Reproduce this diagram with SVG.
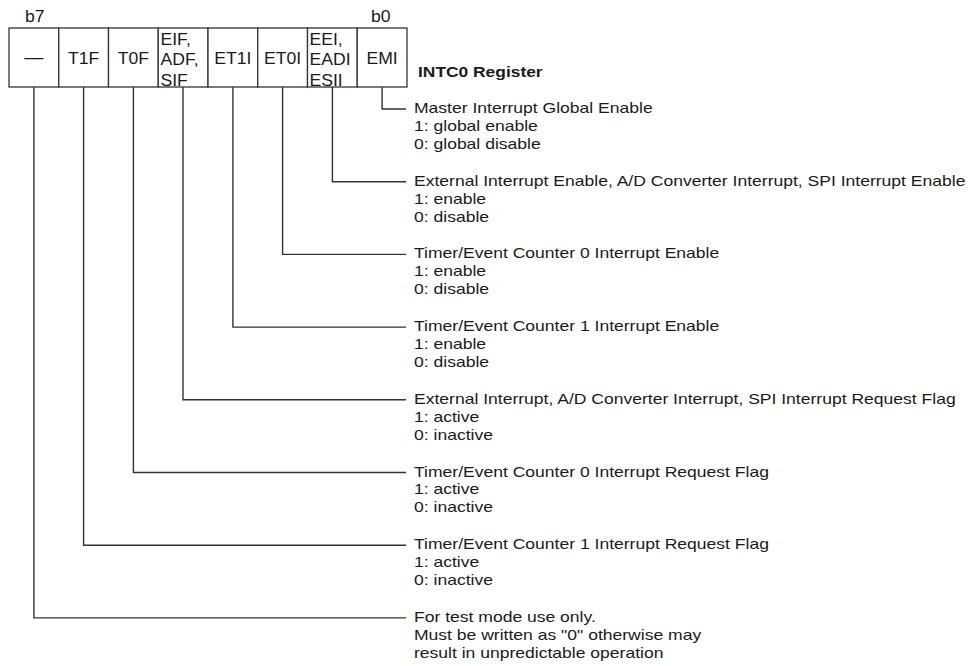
<svg xmlns="http://www.w3.org/2000/svg" width="968" height="666" viewBox="0 0 968 666">
  <style>
    .cell { fill: #fff; stroke: #333; stroke-width: 1.3; }
    .lbl { font-family: "Liberation Sans", Arial, sans-serif; font-size: 16px; fill: #1a1a1a; }
    .desc { font-family: "Liberation Sans", Arial, sans-serif; font-size: 14.5px; fill: #1a1a1a; }
    .title { font-family: "Liberation Sans", Arial, sans-serif; font-size: 14.5px; font-weight: bold; fill: #1a1a1a; }
    .wire { fill: none; stroke: #333; stroke-width: 1.4; }
  </style>
  <rect width="968" height="666" fill="#fff"/>

  <!-- bit position markers -->
  <g id="bit-labels">
    <text class="lbl" transform="translate(25 22) scale(1.1 1)">b7</text>
    <text class="lbl" transform="translate(371 22) scale(1.1 1)">b0</text>
  </g>

  <!-- register cells, b7 .. b0 -->
  <g id="bit7">
    <rect class="cell" x="9" y="28" width="49.75" height="59"/>
    <text class="lbl" transform="translate(33.9 63) scale(1.2 1)" text-anchor="middle">—</text>
  </g>
  <g id="bit6">
    <rect class="cell" x="58.75" y="28" width="49.75" height="59"/>
    <text class="lbl" transform="translate(83.6 64) scale(1.1 1)" text-anchor="middle">T1F</text>
  </g>
  <g id="bit5">
    <rect class="cell" x="108.5" y="28" width="49.75" height="59"/>
    <text class="lbl" transform="translate(133.4 64) scale(1.1 1)" text-anchor="middle">T0F</text>
  </g>
  <g id="bit4">
    <rect class="cell" x="158.25" y="28" width="49.75" height="59"/>
    <g transform="translate(160.5 0) scale(1.1 1)">
      <text class="lbl" x="0" y="45">EIF,</text>
      <text class="lbl" x="0" y="65.5">ADF,</text>
      <text class="lbl" x="0" y="86">SIF</text>
    </g>
  </g>
  <g id="bit3">
    <rect class="cell" x="208" y="28" width="49.75" height="59"/>
    <text class="lbl" transform="translate(232.9 64) scale(1.1 1)" text-anchor="middle">ET1I</text>
  </g>
  <g id="bit2">
    <rect class="cell" x="257.75" y="28" width="49.75" height="59"/>
    <text class="lbl" transform="translate(282.6 64) scale(1.1 1)" text-anchor="middle">ET0I</text>
  </g>
  <g id="bit1">
    <rect class="cell" x="307.5" y="28" width="49.75" height="59"/>
    <g transform="translate(309.5 0) scale(1.1 1)">
      <text class="lbl" x="0" y="45">EEI,</text>
      <text class="lbl" x="0" y="65.5">EADI</text>
      <text class="lbl" x="0" y="86">ESII</text>
    </g>
  </g>
  <g id="bit0">
    <rect class="cell" x="357.25" y="28" width="49.75" height="59"/>
    <text class="lbl" transform="translate(382.1 64) scale(1.1 1)" text-anchor="middle">EMI</text>
  </g>

  <g id="register-title">
    <text class="title" transform="translate(418 77) scale(1.2 1)">INTC0 Register</text>
  </g>

  <!-- leader lines from each bit to its description -->
  <g id="connectors">
    <path class="wire" d="M382.1 87 V109 H406"/>
    <path class="wire" d="M332.4 87 V181.7 H406"/>
    <path class="wire" d="M282.6 87 V254.4 H406"/>
    <path class="wire" d="M232.9 87 V327.1 H406"/>
    <path class="wire" d="M183 87 V399.8 H406"/>
    <path class="wire" d="M133.4 87 V472.5 H406"/>
    <path class="wire" d="M83.6 87 V545.2 H406"/>
    <path class="wire" d="M33.9 87 V617.9 H406"/>
  </g>

  <!-- bit descriptions -->
  <g id="desc-EMI" transform="translate(414 109) scale(1.21 1)">
    <text class="desc" y="4">Master Interrupt Global Enable</text>
    <text class="desc" y="22">1: global enable</text>
    <text class="desc" y="40">0: global disable</text>
  </g>
  <g id="desc-EEI" transform="translate(414 181.7) scale(1.21 1)">
    <text class="desc" y="4">External Interrupt Enable, A/D Converter Interrupt, SPI Interrupt Enable</text>
    <text class="desc" y="22">1: enable</text>
    <text class="desc" y="40">0: disable</text>
  </g>
  <g id="desc-ET0I" transform="translate(414 254.4) scale(1.21 1)">
    <text class="desc" y="4">Timer/Event Counter 0 Interrupt Enable</text>
    <text class="desc" y="22">1: enable</text>
    <text class="desc" y="40">0: disable</text>
  </g>
  <g id="desc-ET1I" transform="translate(414 327.1) scale(1.21 1)">
    <text class="desc" y="4">Timer/Event Counter 1 Interrupt Enable</text>
    <text class="desc" y="22">1: enable</text>
    <text class="desc" y="40">0: disable</text>
  </g>
  <g id="desc-EIF" transform="translate(414 399.8) scale(1.21 1)">
    <text class="desc" y="4">External Interrupt, A/D Converter Interrupt, SPI Interrupt Request Flag</text>
    <text class="desc" y="22">1: active</text>
    <text class="desc" y="40">0: inactive</text>
  </g>
  <g id="desc-T0F" transform="translate(414 472.5) scale(1.21 1)">
    <text class="desc" y="4">Timer/Event Counter 0 Interrupt Request Flag</text>
    <text class="desc" y="22">1: active</text>
    <text class="desc" y="40">0: inactive</text>
  </g>
  <g id="desc-T1F" transform="translate(414 545.2) scale(1.21 1)">
    <text class="desc" y="4">Timer/Event Counter 1 Interrupt Request Flag</text>
    <text class="desc" y="22">1: active</text>
    <text class="desc" y="40">0: inactive</text>
  </g>
  <g id="desc-bit7" transform="translate(414 617.9) scale(1.21 1)">
    <text class="desc" y="4">For test mode use only.</text>
    <text class="desc" y="22">Must be written as "0" otherwise may</text>
    <text class="desc" y="40">result in unpredictable operation</text>
  </g>
</svg>
